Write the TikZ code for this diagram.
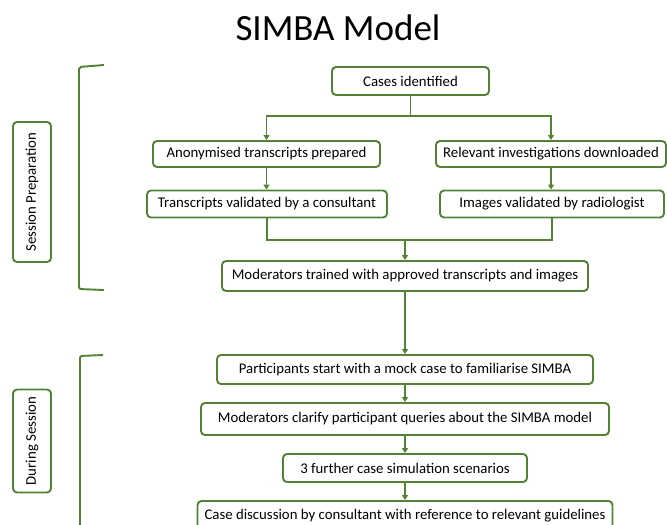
\documentclass[tikz,border=0pt]{standalone}
\usepackage{fontspec}
\setmainfont{Carlito}
\usetikzlibrary{arrows.meta}
\definecolor{ggreen}{HTML}{548235}
\tikzset{
  box/.style={draw=ggreen, line width=1.9pt, rounded corners=4pt, fill=white,
    inner sep=0pt, font=\fontsize{14.8}{16}\selectfont, text=black},
  arr/.style={draw=ggreen, line width=1.9pt, -{Triangle[width=6pt,length=5pt]}},
  ln/.style={draw=ggreen, line width=1.9pt},
}
\begin{document}
\begin{tikzpicture}[x=1pt,y=-1pt]
\useasboundingbox (0,0) rectangle (667,525);
\node[font=\fontsize{37}{40}\selectfont] (title) at (338,28) {SIMBA Model};

% labels
\node[box, rotate=90, minimum width=140pt, minimum height=38pt] (prep) at (32,192) {Session Preparation};
\node[box, rotate=90, minimum width=103pt, minimum height=38pt] (during) at (32,441) {During Session};

% brackets
\draw[ln, rounded corners=2pt] (104,65) -- (79,67) -- (79,289) -- (104,290);
\draw[ln, rounded corners=2pt] (103,355) -- (80,356) -- (80,532);

% boxes
\node[box, minimum width=157pt, minimum height=28pt] (cases) at (410.5,81) {Cases identified};
\node[box, minimum width=227pt, minimum height=26pt] (anon) at (266.5,154) {Anonymised transcripts prepared};
\node[box, minimum width=230pt, minimum height=26pt] (relev) at (551,154) {Relevant investigations downloaded};
\node[box, minimum width=240pt, minimum height=27pt] (trans) at (267,204) {Transcripts validated by a consultant};
\node[box, minimum width=224pt, minimum height=27pt] (images) at (552,204) {Images validated by radiologist};
\node[box, minimum width=366pt, minimum height=30pt] (modtr) at (405,276) {Moderators trained with approved transcripts and images};
\node[box, minimum width=376pt, minimum height=29pt] (part) at (405,369.5) {Participants start with a mock case to familiarise SIMBA};
\node[box, minimum width=408pt, minimum height=32pt] (clar) at (405,419) {Moderators clarify participant queries about the SIMBA model};
\node[box, minimum width=244pt, minimum height=28pt] (three) at (405,468) {3 further case simulation scenarios};
\node[box, minimum width=415pt, minimum height=29pt] (disc) at (405,515.5) {Case discussion by consultant with reference to relevant guidelines};

% connectors
\coordinate (split) at (410.5,116);
\coordinate (merge) at (405,240);
\draw[ln] (cases.south) -- (split);
\draw[arr] (split) -| (anon.north);
\draw[arr] (split) -| (relev.north);
\draw[arr] (anon.south) -- (anon.south |- trans.north);
\draw[arr] (relev.south) -- (relev.south |- images.north);
\draw[ln] (trans.south) |- (images.south |- merge) -- (images.south);
\draw[arr] (merge) -- (modtr.north);
\draw[arr] (modtr.south) -- (part.north);
\draw[arr] (part.south) -- (clar.north);
\draw[arr] (clar.south) -- (three.north);
\draw[arr] (three.south) -- (disc.north);
\end{tikzpicture}
\end{document}
